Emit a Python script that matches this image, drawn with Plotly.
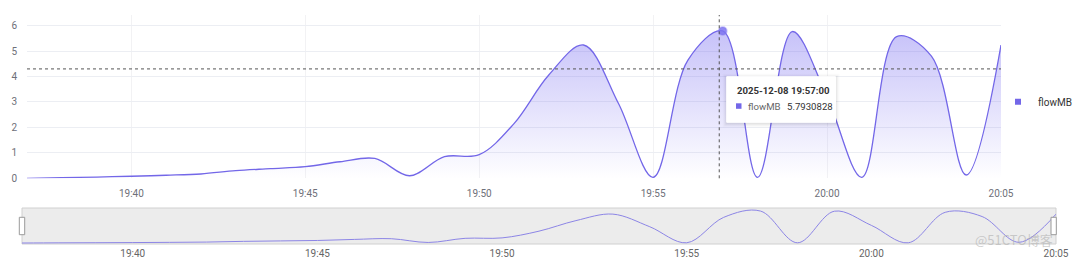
import plotly.graph_objects as go

# ---------------- data ----------------
DATE = "2025-12-08"
minutes = ["19:37", "19:38", "19:39", "19:40", "19:41", "19:42", "19:43", "19:44",
           "19:45", "19:46", "19:47", "19:48", "19:49", "19:50", "19:51", "19:52",
           "19:53", "19:54", "19:55", "19:56", "19:57", "19:58", "19:59", "20:00",
           "20:01", "20:02", "20:03", "20:04", "20:05"]
flowMB = [0.00, 0.03, 0.05, 0.08, 0.12, 0.17, 0.30, 0.38,
          0.46, 0.65, 0.78, 0.10, 0.85, 0.93, 2.15, 4.06,
          5.24, 2.95, 0.04, 4.65, 5.7930828, 0.04, 5.77, 3.20,
          0.04, 5.57, 4.80, 0.13, 5.24]
series_name = "flowMB"
y_ticks = [0, 1, 2, 3, 4, 5, 6]
hover_index = 20                      # point shown in the tooltip
cursor_time = DATE + " 19:56:54"      # mouse position (crosshair)
cursor_value = 4.30

times = [f"{DATE} {m}:00" for m in minutes]

# ---------------- style ----------------
W, H = 1080, 262
LINE = "#7367e8"
FONT = "Roboto, Inter, sans-serif"


def X(px):
    return px / W


def Y(py):
    return 1 - py / H


fig = go.Figure()

# main area series
fig.add_trace(go.Scatter(
    x=times, y=flowMB, mode="lines", name=series_name, showlegend=False,
    line=dict(color=LINE, width=1.3, shape="spline", smoothing=1.0),
    fill="tozeroy",
    fillgradient=dict(type="vertical",
                      colorscale=[[0, "rgba(115,103,240,0.0)"],
                                  [1, "rgba(115,103,240,0.40)"]],
                      start=0, stop=max(flowMB)),
    hoverinfo="skip", xaxis="x", yaxis="y"))

# emphasised point
fig.add_trace(go.Scatter(
    x=[times[hover_index]], y=[flowMB[hover_index]], mode="markers",
    showlegend=False, hoverinfo="skip",
    marker=dict(size=8, color="rgba(125,115,240,0.85)",
                line=dict(color="rgba(125,115,240,0.35)", width=2)),
    xaxis="x", yaxis="y"))

# legend entry
fig.add_trace(go.Scatter(
    x=[times[0]], y=[None], mode="markers", name=series_name,
    marker=dict(symbol="square", size=6, color=LINE),
    xaxis="x", yaxis="y"))

# slider data shadow
fig.add_trace(go.Scatter(
    x=times, y=flowMB, mode="lines", showlegend=False, hoverinfo="skip",
    line=dict(color="#8c85e6", width=1, shape="spline", smoothing=1.0),
    xaxis="x2", yaxis="y2"))

shapes = []
# slider background and border
shapes.append(dict(type="rect", xref="paper", yref="paper",
                   x0=X(22), x1=X(1056), y0=Y(244), y1=Y(208),
                   fillcolor="#ececec", line=dict(color="#d0d0d0", width=1),
                   layer="below"))
# slider handles
for hx0, hx1 in [(19.3, 24.7), (1051, 1056.3)]:
    shapes.append(dict(type="rect", xref="paper", yref="paper",
                       x0=X(hx0), x1=X(hx1), y0=Y(234.7), y1=Y(217.3),
                       fillcolor="#ffffff", line=dict(color="#9a9a9a", width=1),
                       layer="above"))
# crosshair
shapes.append(dict(type="line", xref="x", yref="y domain",
                   x0=cursor_time, x1=cursor_time, y0=0, y1=1,
                   line=dict(color="#555555", width=1, dash="3px,3px"),
                   layer="above"))
shapes.append(dict(type="line", xref="x domain", yref="y",
                   x0=0, x1=1, y0=cursor_value, y1=cursor_value,
                   line=dict(color="#555555", width=1, dash="3px,3px"),
                   layer="above"))
# tooltip box (with soft shadow)
tx0, tx1, ty0, ty1 = 726.7, 835.5, 76.7, 122.3
for i, a in [(4, 0.015), (3, 0.02), (2, 0.03), (1, 0.04)]:
    shapes.append(dict(type="rect", xref="paper", yref="paper",
                       x0=X(tx0 - i), x1=X(tx1 + i), y0=Y(ty1 + i + 1), y1=Y(ty0 - i + 1),
                       fillcolor=f"rgba(0,0,0,{a})", line=dict(width=0),
                       layer="above"))
shapes.append(dict(type="rect", xref="paper", yref="paper",
                   x0=X(tx0), x1=X(tx1), y0=Y(ty1), y1=Y(ty0),
                   fillcolor="#ffffff", line=dict(color="#ffffff", width=1),
                   layer="above"))
shapes.append(dict(type="rect", xref="paper", yref="paper",
                   x0=X(736), x1=X(741.5), y0=Y(108.8), y1=Y(103.3),
                   fillcolor=LINE, line=dict(width=0), layer="above"))

annotations = [
    dict(xref="paper", yref="paper", x=X(734.5), y=Y(90.3),
         text=f"<b>{times[hover_index]}</b>", showarrow=False,
         xanchor="left", yanchor="middle",
         font=dict(family=FONT, size=9.6, color="#333333")),
    dict(xref="paper", yref="paper", x=X(745.8), y=Y(106.2),
         text=series_name, showarrow=False, xanchor="left", yanchor="middle",
         font=dict(family=FONT, size=9.6, color="#666666")),
    dict(xref="paper", yref="paper", x=X(785.3), y=Y(106.2),
         text=f"{flowMB[hover_index]}", showarrow=False,
         xanchor="left", yanchor="middle",
         font=dict(family=FONT, size=9.6, color="#333333")),
    dict(xref="paper", yref="paper", x=X(1014), y=Y(239.5),
         text="@51CTO博客", showarrow=False, xanchor="center", yanchor="middle",
         font=dict(family="Noto Sans CJK SC", size=13, color="rgba(175,175,175,0.6)")),
]

fig.update_layout(
    width=W, height=H, autosize=False,
    margin=dict(l=0, r=0, t=0, b=0, pad=0, autoexpand=False),
    paper_bgcolor="#ffffff", plot_bgcolor="rgba(0,0,0,0)",
    font=dict(family=FONT, size=10, color="#6e7079"),
    showlegend=True,
    legend=dict(x=X(998), y=Y(101.7), xanchor="left", yanchor="middle",
                bgcolor="rgba(0,0,0,0)", borderwidth=0,
                font=dict(family=FONT, size=10, color="#333333"),
                itemwidth=30),
    xaxis=dict(domain=[X(27), X(1001)], anchor="y", type="date",
               range=[times[0], times[-1]], automargin=False,
               tickformat="%H:%M", tick0=f"{DATE} 19:40", dtick=300000,
               showgrid=True, gridcolor="#f2f2f4", gridwidth=1,
               zeroline=False, showline=False, ticks="",
               ticklabelstandoff=8,
               tickfont=dict(family=FONT, size=10, color="#6e7079"),
               fixedrange=True),
    yaxis=dict(domain=[Y(178.3), Y(15)], anchor="x", automargin=False,
               range=[0, 6.42], tickvals=y_ticks,
               showgrid=True, gridcolor="#eceef3", gridwidth=1,
               zeroline=False, showline=False, ticks="",
               ticklabelstandoff=9,
               tickfont=dict(family=FONT, size=10, color="#6e7079"),
               fixedrange=True),
    xaxis2=dict(domain=[X(22), X(1056)], anchor="y2", type="date",
                range=[times[0], times[-1]], automargin=False,
                tickformat="%H:%M", tick0=f"{DATE} 19:40", dtick=300000,
                showgrid=False, zeroline=False, showline=False, ticks="",
                ticklabelstandoff=2,
                tickfont=dict(family=FONT, size=10, color="#666666"),
                fixedrange=True),
    yaxis2=dict(domain=[Y(244), Y(208)], anchor="x2", automargin=False,
                range=[-0.18, 6.35], visible=False, fixedrange=True),
    shapes=shapes,
    annotations=annotations,
)

fig.write_html("out.html", config={"displayModeBar": False, "staticPlot": True})
